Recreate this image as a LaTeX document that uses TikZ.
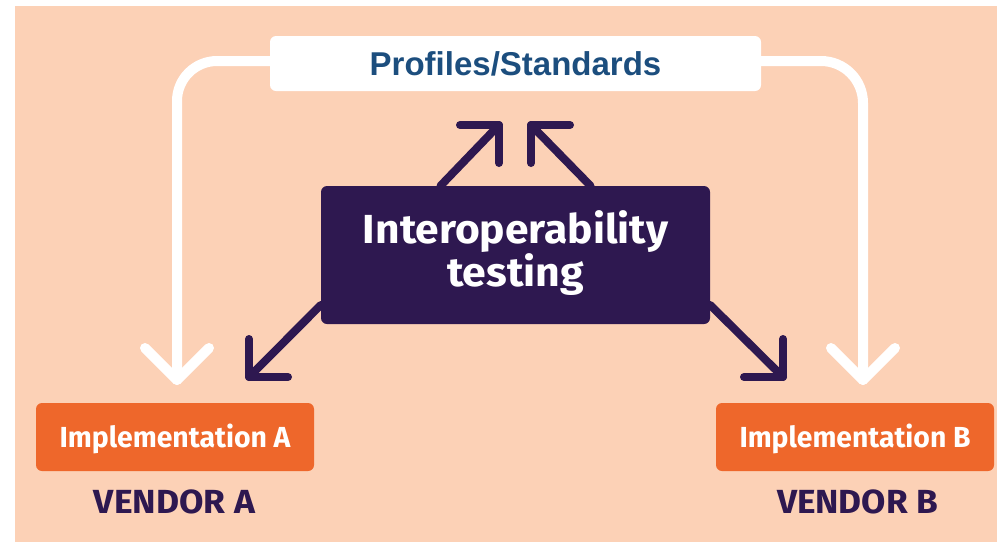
\documentclass[tikz,border=0pt]{standalone}
\usepackage{fontspec}
\usepackage{graphicx}
\setmainfont{Liberation Sans}
\newfontfamily\rnd{Fira Sans}
\definecolor{peach}{HTML}{FCD1B6}
\definecolor{orng}{HTML}{EE672B}
\definecolor{purp}{HTML}{2E1850}
\definecolor{navy}{HTML}{1C4E7E}
\newcommand\fitw[2]{\resizebox{#1}{\height}{#2}}
\begin{document}
\begin{tikzpicture}[x=1pt,y=-1pt,
  wline/.style={draw=white,line width=10pt,line cap=round,line join=round},
  dline/.style={draw=purp,line width=8pt,line cap=round,line join=round},
  impl/.style={fill=orng,rounded corners=6pt,minimum width=278pt,minimum height=68pt,inner sep=0pt,text=white,
    font=\rnd\bfseries\fontsize{29}{29}\selectfont,text height=20pt,text depth=0pt},
  vend/.style={anchor=base,inner sep=0pt,text=purp,font=\rnd\bfseries\fontsize{33.4}{34}\selectfont}]
\useasboundingbox (0,0) rectangle (997,542);
\fill[white] (0,0) rectangle (997,542);
\fill[peach] (15,6) rectangle (997,542);

\node[fill=white,rounded corners=6pt,minimum width=491pt,minimum height=55pt,inner sep=0pt,text=navy,
  font=\bfseries\fontsize{33}{33}\selectfont,text height=23.6pt,text depth=0pt] (prof) at (515.5,63.5) {Profiles/Standards};

\node[fill=purp,rounded corners=6pt,minimum width=389pt,minimum height=138pt,inner sep=0pt,text=white,align=center,
  font=\rnd\bfseries\fontsize{40.6}{39}\selectfont,text height=67pt,text depth=5pt] (itest) at (515.5,255)
  {\fitw{305pt}{Interoperability}\\\fitw{137pt}{testing}};

\node[impl] (implA) at (175,437) {\fitw{231pt}{Implementation A}};
\node[impl] (implB) at (855,437) {\fitw{231pt}{Implementation B}};
\node[vend] (vendA) at (174.5,513) {\fitw{161pt}{VENDOR A}};
\node[vend] (vendB) at (857.5,513) {\fitw{161pt}{VENDOR B}};

% white connectors from Profiles/Standards
\coordinate (wA) at (177,380);
\coordinate (wB) at (863,380);
\draw[wline,rounded corners=40pt] ([yshift=2.5pt]prof.west) -| (wA);
\draw[wline] ([shift={(-32,-32)}]wA) -- (wA) -- ([shift={(32,-32)}]wA);
\draw[wline,rounded corners=42pt] ([yshift=2.5pt]prof.east) -| (wB);
\draw[wline] ([shift={(-32,-32)}]wB) -- (wB) -- ([shift={(32,-32)}]wB);

% dark arrows from Interoperability testing
\coordinate (tUL) at (499,125);
\coordinate (tUR) at (531,125);
\coordinate (tLL) at (249,377);
\coordinate (tLR) at (783,377);
\draw[dline] ([xshift=-75pt]itest.north) -- (tUL);
\draw[dline] ([shift={(-39,0)}]tUL) -- (tUL) -- ([shift={(0,38)}]tUL);
\draw[dline] ([xshift=75pt]itest.north) -- (tUR);
\draw[dline] ([shift={(39,0)}]tUR) -- (tUR) -- ([shift={(0,38)}]tUR);
\draw[dline] ([yshift=-50pt]itest.west) -- (tLL);
\draw[dline] ([shift={(0,-38)}]tLL) -- (tLL) -- ([shift={(39,0)}]tLL);
\draw[dline] ([yshift=-50pt]itest.east) -- (tLR);
\draw[dline] ([shift={(0,-38)}]tLR) -- (tLR) -- ([shift={(-39,0)}]tLR);
\end{tikzpicture}
\end{document}
